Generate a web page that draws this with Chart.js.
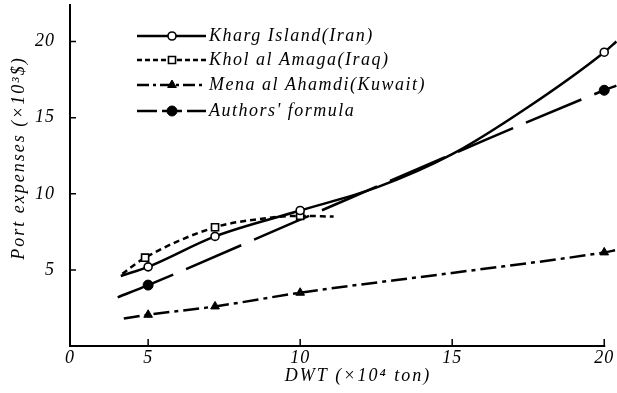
<!DOCTYPE html>
<html>
<head>
<meta charset="utf-8">
<title>Port expenses vs DWT</title>
<script src="https://cdn.jsdelivr.net/npm/chart.js@4.4.1/dist/chart.umd.min.js"></script>
<style>
    html, body { margin: 0; padding: 0; background: #fff; }
    #wrap { width: 617px; height: 393px; position: relative; }
</style>
</head>
<body>
<div id="wrap"><canvas id="portChart"></canvas></div>
<script>
// DWT in 10^4 ton (x), port expenses in 10^3 $ (y)
const khargX = [4.1, 5, 7.2, 10, 12.5, 15, 17.5, 20, 20.4];
const khargY = [4.6, 5.2, 7.2, 8.9, 10.4, 12.6, 15.7, 19.3, 20.0];
const khargMarks = [5, 7.2, 10, 20];

const kholX = [4.15, 4.9, 7.2, 8.5, 10, 11.1];
const kholY = [4.75, 5.8, 7.8, 8.3, 8.55, 8.5];
const kholMarks = [4.9, 7.2, 10];

const menaX = [4.2, 5, 7.2, 10, 15, 20, 20.4];
const menaY = [1.8, 2.05, 2.6, 3.5, 4.8, 6.15, 6.3];
const menaMarks = [5, 7.2, 10, 20];

const authorsX = [4.0, 5, 10, 15, 20, 20.4];
const authorsY = [3.2, 4.0, 8.3, 12.6, 16.8, 17.1];
const authorsMarks = [5, 20];

const seriesNames = ['Kharg Island(Iran)', 'Khol al Amaga(Iraq)', 'Mena al Ahamdi(Kuwait)', "Authors' formula"];
const xTicks = [5, 10, 15, 20];
const yTicks = [5, 10, 15, 20];

const X_MIN = 2.43;   // axis is broken, left end is labelled 0
const X_END = 20;     // drawn x axis stops here, curves run a bit past it
const serif = "'Liberation Serif', 'DejaVu Serif', serif";

function toPoints(xs, ys) {
    return xs.map((x, i) => ({ x: x, y: ys[i] }));
}

function markRadius(marks, r) {
    return ctx => (ctx.raw && marks.includes(ctx.raw.x)) ? r : 0;
}

const datasets = [
    {
        label: seriesNames[0],
        data: toPoints(khargX, khargY),
        borderDash: [],
        legendDash: [],
        pointStyle: 'circle',
        markSize: 4,
        pointRadius: markRadius(khargMarks, 4),
        pointBackgroundColor: '#fff',
        pointBorderWidth: 1.6,
    },
    {
        label: seriesNames[1],
        data: toPoints(kholX, kholY),
        borderDash: [6, 4],
        legendDash: [5, 3],
        pointStyle: 'rect',
        markSize: 5,
        pointRadius: markRadius(kholMarks, 5),
        pointBackgroundColor: '#fff',
        pointBorderWidth: 1.6,
    },
    {
        label: seriesNames[2],
        data: toPoints(menaX, menaY),
        borderDash: [16, 5, 4, 5],
        legendDash: [12, 4, 3, 4],
        pointStyle: 'triangle',
        markSize: 5,
        pointRadius: markRadius(menaMarks, 5),
        pointBackgroundColor: '#000',
        pointBorderWidth: 1,
    },
    {
        label: seriesNames[3],
        data: toPoints(authorsX, authorsY),
        borderDash: [60, 14],
        legendDash: [20, 5],
        pointStyle: 'circle',
        markSize: 5,
        pointRadius: markRadius(authorsMarks, 5),
        pointBackgroundColor: '#000',
        pointBorderWidth: 1,
    }
];

datasets.forEach(ds => {
    ds.borderColor = '#000';
    ds.pointBorderColor = '#000';
    ds.borderWidth = 2.5;
    ds.fill = false;
    ds.cubicInterpolationMode = 'monotone';
    ds.clip = false;
    ds.pointHoverRadius = 0;
});

// x axis line, inward tick marks, axis titles and the legend in the style of the figure
const figureDecor = {
    id: 'figureDecor',
    beforeDraw(chart) {
        chart.ctx.letterSpacing = '1px';
    },
    afterDraw(chart) {
        const ctx = chart.ctx;
        const xs = chart.scales.x, ys = chart.scales.y;
        const area = chart.chartArea;
        ctx.save();
        ctx.strokeStyle = '#000';
        ctx.lineWidth = 2;
        ctx.beginPath();
        ctx.moveTo(area.left - 1, area.bottom);
        ctx.lineTo(xs.getPixelForValue(X_END) + 1, area.bottom);
        ctx.stroke();

        ctx.lineWidth = 1.5;
        ctx.beginPath();
        xTicks.forEach(v => {
            const px = xs.getPixelForValue(v);
            ctx.moveTo(px, area.bottom);
            ctx.lineTo(px, area.bottom - 7);
        });
        yTicks.forEach(v => {
            const py = ys.getPixelForValue(v);
            ctx.moveTo(area.left, py);
            ctx.lineTo(area.left + 6, py);
        });
        ctx.stroke();

        // axis titles
        ctx.fillStyle = '#000';
        ctx.letterSpacing = '2px';
        ctx.font = 'italic 18px ' + serif;
        ctx.textAlign = 'center';
        ctx.textBaseline = 'middle';
        ctx.fillText('DWT (×10⁴ ton)', 358, 376);
        ctx.save();
        ctx.translate(19, 158);
        ctx.rotate(-Math.PI / 2);
        ctx.fillText('Port expenses (×10³$)', 0, 0);
        ctx.restore();

        // legend
        const rows = [36, 60, 85, 111];
        ctx.letterSpacing = '1.5px';
        chart.data.datasets.forEach((ds, i) => {
            const y = rows[i];
            ctx.save();
            ctx.lineWidth = ds.borderWidth;
            ctx.setLineDash(ds.legendDash);
            ctx.beginPath();
            ctx.moveTo(137, y);
            ctx.lineTo(206, y);
            ctx.stroke();
            ctx.restore();
            ctx.save();
            ctx.fillStyle = ds.pointBackgroundColor;
            ctx.strokeStyle = '#000';
            ctx.lineWidth = ds.pointBorderWidth;
            Chart.helpers.drawPoint(ctx, { pointStyle: ds.pointStyle, radius: ds.markSize, rotation: 0, borderWidth: ds.pointBorderWidth }, 172, y);
            ctx.restore();
            ctx.textAlign = 'left';
            ctx.fillStyle = '#000';
            ctx.fillText(ds.label, 209, y);
        });
        ctx.restore();
    }
};

function noPadding(scale) {
    scale.paddingTop = 0;
    scale.paddingBottom = 0;
    scale.paddingLeft = 0;
    scale.paddingRight = 0;
}

new Chart(document.getElementById('portChart').getContext('2d'), {
    type: 'line',
    data: { datasets: datasets },
    options: {
        responsive: true,
        maintainAspectRatio: false,
        animation: false,
        events: [],
        layout: { padding: { top: 5, right: 0, left: 0, bottom: 0 } },
        plugins: {
            legend: { display: false },
            tooltip: { enabled: false }
        },
        scales: {
            x: {
                type: 'linear',
                min: X_MIN,
                max: 20.42,
                afterBuildTicks: scale => {
                    scale.ticks = [{ value: X_MIN }].concat(xTicks.map(v => ({ value: v })));
                },
                afterFit: scale => { scale.height = 47; noPadding(scale); },
                grid: { display: false },
                border: { display: false },
                ticks: {
                    color: '#000',
                    padding: -7,
                    maxRotation: 0,
                    autoSkip: false,
                    font: { family: serif, size: 18, style: 'italic' },
                    callback: v => v === X_MIN ? '0' : String(v)
                }
            },
            y: {
                type: 'linear',
                min: 0,
                max: 22.4,
                afterBuildTicks: scale => {
                    scale.ticks = yTicks.map(v => ({ value: v }));
                },
                afterFit: scale => { scale.width = 70; noPadding(scale); },
                grid: { display: false },
                border: { display: true, color: '#000', width: 2 },
                ticks: {
                    color: '#000',
                    padding: 7,
                    autoSkip: false,
                    font: { family: serif, size: 18, style: 'italic' },
                    callback: v => String(v)
                }
            }
        }
    },
    plugins: [figureDecor]
});
</script>
</body>
</html>
